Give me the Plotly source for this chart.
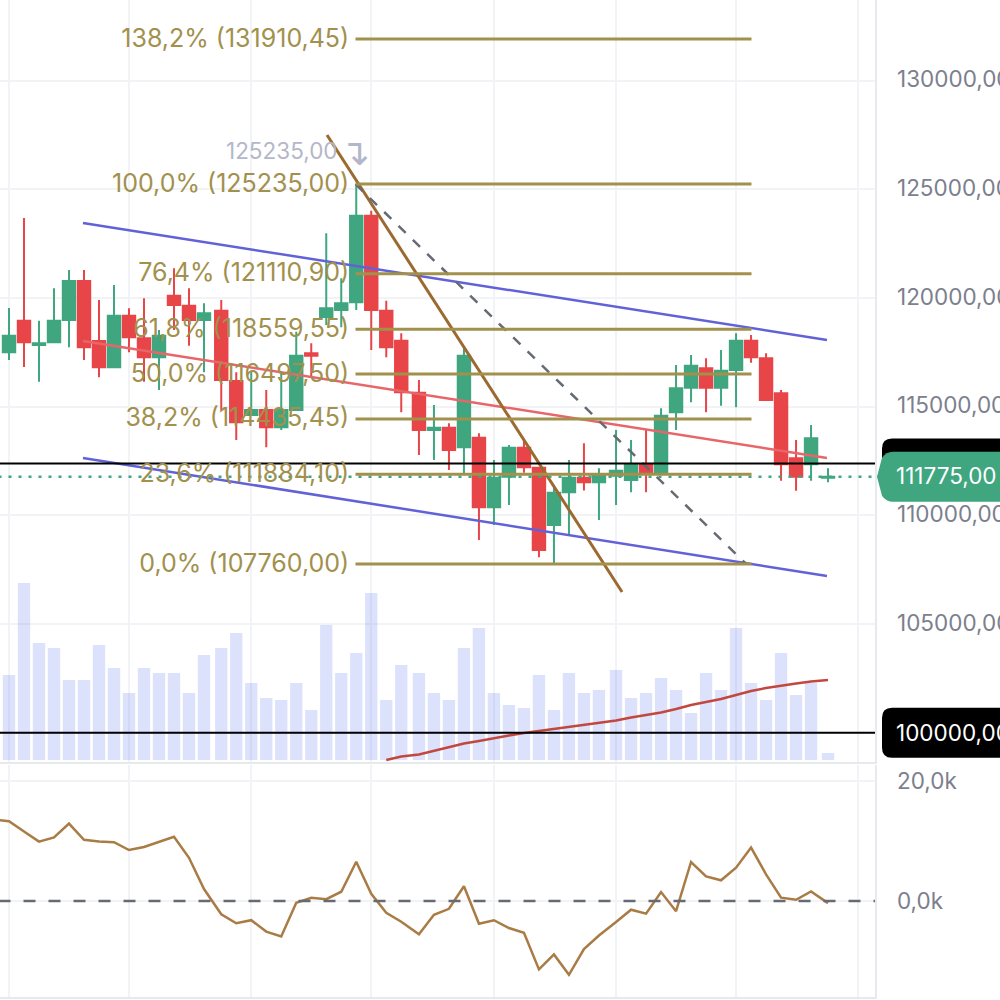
import numpy as np
import plotly.graph_objects as go

# ---------- data ----------
opens = [117498,118952,117834,117958,118984,120778,118018,116808,119182,118142,
         117268,120102,119642,118984,119412,116178,114614,114844,114048,114844,
         117452,119122,119444,119798,123782,119412,118032,115640,113924,114030,
         113128,113570,110368,111775,113110,112190,109554,111058,111730,111518,
         111822,111624,112346,111960,114738,115870,116762,115870,116684,118032,
         117222,115612,112622,112346,111730]
highs = [119536,123676,118952,120442,121284,121284,119904,120594,119522,119982,
         118524,121362,120442,119752,119904,116578,116606,115764,116606,118446,
         117912,122972,120902,125235,124012,119872,118372,116224,115074,114232,
         117682,113772,112544,113234,113464,112190,111316,112544,113312,112162,
         113924,113464,113924,114922,116914,117374,117222,117604,118372,118294,
         117452,115764,113464,114154,112162]
lows =  [117144,116822,116146,117958,117728,117144,116348,116808,117498,116146,
         115764,118524,117802,116578,114844,113464,114614,113128,113924,114844,
         116376,118754,118648,119444,117604,117268,114738,112774,112544,112084,
         111854,108864,109554,110474,111960,108068,107760,109140,111141,109784,
         110474,111058,111058,111960,113924,115198,114738,115042,114968,117020,
         115304,111592,111132,111592,111518]
closes =[118262,117958,117912,118952,120778,117728,116808,119182,118188,117268,
         118262,119674,118984,119292,116224,114278,114844,114048,114844,117342,
         117342,119522,119752,123782,119444,117728,115658,113924,114030,113004,
         117342,110368,111730,113110,112208,108404,111040,111730,111518,111822,
         112052,112346,111960,114582,115842,116882,115870,116652,118032,117268,
         115304,112346,111775,113542,111775]
volumes = [85,177,117,112,80,80,115,92,67,92,87,87,67,105,112,127,77,62,60,77,50,135,87,107,
           167,60,95,87,67,60,112,132,67,55,52,85,50,87,67,70,90,62,67,82,70,47,87,70,132,
           77,60,107,65,77,7]
volume_ma_start = 25
volume_ma = [0,3.5,5.5,9,13,16.5,19,22,24.5,27,29,31,33,35.5,37,39.5,42.5,45,47.5,51,55,58,
             61,65,69,72,74.5,76.5,78.5,80]
oscillator = [13.6,13.3,11.6,9.9,10.6,12.9,10.2,9.9,9.8,8.5,9.0,9.9,10.7,7.2,2.0,-2.2,-3.7,-3.2,
              -5.1,-5.9,-0.3,0.55,0.3,1.55,6.55,1.2,-1.95,-3.45,-5.55,-2.3,-1.3,2.45,-3.8,-3.2,
              -4.5,-5.3,-11.4,-8.9,-12.3,-8.0,-5.75,-3.5,-1.45,-2.1,1.5,-1.7,6.5,4.1,3.45,5.55,
              8.9,4.45,0.55,0.2,1.6,-0.35]
fib_labels = ["138,2% (131910,45)","100,0% (125235,00)","76,4% (121110,90)","61,8% (118559,55)",
              "50,0% (116497,50)","38,2% (114435,45)","23,6% (111884,10)","0,0% (107760,00)"]
fib_levels = [131910.45,125235,121110.90,118559.55,116497.50,114435.45,111884.10,107760]
price_ticks = [100000,105000,110000,115000,120000,125000,130000]
price_tick_labels = ["","105000,00","110000,00","115000,00","120000,00","125000,00","130000,00"]
osc_ticks = [0,20]
osc_tick_labels = ["0,0k","20,0k"]
last_price = 111775
alert_price = 112383
alert_price_2 = 100000
# session numbering on the time axis
break_sessions = [14,27,40,54]
break_sizes = [0.15,0.18,0.14,0.13]

GREEN="#3fa67f"; RED="#e84549"; FIB="#a2904d"; GRID="#f2f3f6"; LABEL="#7c7f8e"; FONT="Inter"
TICK_SIZE = 22.5

n = len(closes)
idx = np.arange(n + 2)
session = idx + sum((idx >= b) * s for b, s in zip(break_sessions, break_sizes))
xs = session[:n]
grid_x = session[0::8]

fig = go.Figure()
fig.add_trace(go.Bar(x=xs, y=volumes, xaxis="x", yaxis="y", width=0.82,
                     marker=dict(color="rgba(92,112,240,0.21)", line_width=0), hoverinfo="skip"))
fig.add_trace(go.Scatter(x=xs[volume_ma_start:], y=volume_ma, xaxis="x", yaxis="y", mode="lines",
                         line=dict(color="#c2483f", width=2.5)))
fig.add_trace(go.Candlestick(x=xs, open=opens, high=highs, low=lows, close=closes, xaxis="x", yaxis="y2",
                             increasing=dict(line=dict(color=GREEN, width=2), fillcolor=GREEN),
                             decreasing=dict(line=dict(color=RED, width=2), fillcolor=RED),
                             whiskerwidth=0))

def seg(x0, y0, x1, y1, color, width=2, dash="solid"):
    fig.add_trace(go.Scatter(x=[x0, x1], y=[y0, y1], xaxis="x", yaxis="y2", mode="lines",
                             line=dict(color=color, width=width, dash=dash), hoverinfo="skip"))

seg(4.93,123446,54.53,118064,"#6161d8",2.5)
seg(4.93,112636,54.53,107208,"#6161d8",2.5)
seg(4.93,118018,54.53,112636,"#e8666a",2.5)
seg(21.2,127494,40.87,106472,"#9c6a30",3)
seg(23.1,125235,49.15,107760,"#666a72",2.5,"10px,10px")
seg(-0.7,alert_price,57.8,alert_price,"#000000",2)
seg(-0.7,alert_price_2,57.8,alert_price_2,"#000000",2)
seg(-0.7,last_price,57.8,last_price,GREEN,2.5,"3px,7px")

for lab, lev in zip(fib_labels, fib_levels):
    seg(23.1,lev,49.5,lev,FIB,3)
    fig.add_trace(go.Scatter(x=[22.68], y=[lev - 60], xaxis="x", yaxis="y2", mode="text", text=[lab],
                             textposition="middle left",
                             textfont=dict(family=FONT, size=25, color=FIB), hoverinfo="skip"))

fig.add_trace(go.Scatter(x=np.r_[-1, xs], y=oscillator, xaxis="x2", yaxis="y3", mode="lines",
                         line=dict(color="#a97b45", width=2.5)))
fig.add_trace(go.Scatter(x=[-0.7,57.8], y=[0,0], xaxis="x2", yaxis="y3", mode="lines",
                         line=dict(color="#666a72", width=2.5, dash="12px,13px"), hoverinfo="skip"))

def price_box(price, half, color, pointed):
    c = 1 - ((133704 - price) / 46) / 1000
    h = half / 1000
    if pointed:
        path = (f"M 1.01,{c+h} L 0.893,{c+h} Q 0.886,{c+h} 0.882,{c+h-0.006} L 0.877,{c} "
                f"L 0.882,{c-h+0.006} Q 0.886,{c-h} 0.893,{c-h} L 1.01,{c-h} Z")
    else:
        path = (f"M 1.01,{c+h} L 0.892,{c+h} Q 0.882,{c+h} 0.882,{c+h-0.01} L 0.882,{c-h+0.01} "
                f"Q 0.882,{c-h} 0.892,{c-h} L 1.01,{c-h} Z")
    return dict(type="path", xref="paper", yref="paper", path=path, fillcolor=color, line_width=0, layer="above")

shapes = [price_box(alert_price, 25, "#000000", False),
          price_box(alert_price_2, 25, "#000000", False),
          price_box(last_price, 25, GREEN, True)]

annotations = [
    dict(xref="paper", yref="y2", x=0.8945, y=last_price + 40, text="111775,00", showarrow=False, xanchor="left",
         width=105.5, align="left", borderpad=0, font=dict(family=FONT, size=TICK_SIZE, color="#ffffff")),
    dict(xref="paper", yref="y2", x=0.8945, y=alert_price_2, text="100000,00", showarrow=False, xanchor="left",
         width=105.5, align="left", borderpad=0, font=dict(family=FONT, size=TICK_SIZE, color="#ffffff")),
    dict(xref="x", yref="y2", x=22.08, y=126800, text="125235,00", showarrow=False, xanchor="right",
         font=dict(family=FONT, size=TICK_SIZE, color="#b4b7c9")),
    dict(xref="x", yref="y2", x=23.07, y=126700, text="↴", showarrow=False,
         font=dict(family="DejaVu Sans", size=36, color="#b4b7c9")),
]

x_common = dict(range=[-0.6, 57.733], domain=[0, 0.875], tickmode="array", tickvals=grid_x, automargin=False,
                showticklabels=False, showgrid=True, gridcolor=GRID, gridwidth=2, zeroline=False,
                rangeslider=dict(visible=False), ticks="", showline=True, linecolor="#e8e9ef", linewidth=2)

fig.update_layout(
    width=1000, height=1000, autosize=False, margin=dict(l=0, r=0, t=0, b=0),
    paper_bgcolor="#ffffff", plot_bgcolor="#ffffff", showlegend=False, hovermode=False,
    boxgap=0.09, boxgroupgap=0.09,
    xaxis=dict(anchor="y", **x_common),
    xaxis2=dict(anchor="y3", **x_common),
    yaxis=dict(domain=[0.238, 1], range=[-2, 760], visible=False, fixedrange=True, automargin=False),
    yaxis2=dict(domain=[0.238, 1], overlaying="y", anchor="x", side="right", automargin=False,
                range=[133704 - 46 * 762, 133704], tickmode="array", tickvals=price_ticks,
                ticktext=price_tick_labels, showgrid=True, gridcolor=GRID, gridwidth=2, zeroline=False,
                showline=True, linecolor="#e8e9ef", linewidth=2,
                ticks="outside", ticklen=15.5, tickcolor="rgba(0,0,0,0)", ticklabelshift=-1,
                tickfont=dict(family=FONT, size=TICK_SIZE, color=LABEL)),
    yaxis3=dict(domain=[0.003, 0.235], anchor="x2", side="right", automargin=False,
                range=[-16, 22.67], tickmode="array", tickvals=osc_ticks, ticktext=osc_tick_labels,
                showgrid=True, gridcolor=GRID, gridwidth=2, zeroline=False,
                showline=True, linecolor="#e8e9ef", linewidth=2,
                ticks="outside", ticklen=15.5, tickcolor="rgba(0,0,0,0)", ticklabelshift=0,
                tickfont=dict(family=FONT, size=TICK_SIZE, color=LABEL)),
    shapes=shapes, annotations=annotations,
)
fig.write_html("out.html", config=dict(displayModeBar=False),
               post_script="document.body.style.margin='0';document.documentElement.style.overflow='hidden';")
